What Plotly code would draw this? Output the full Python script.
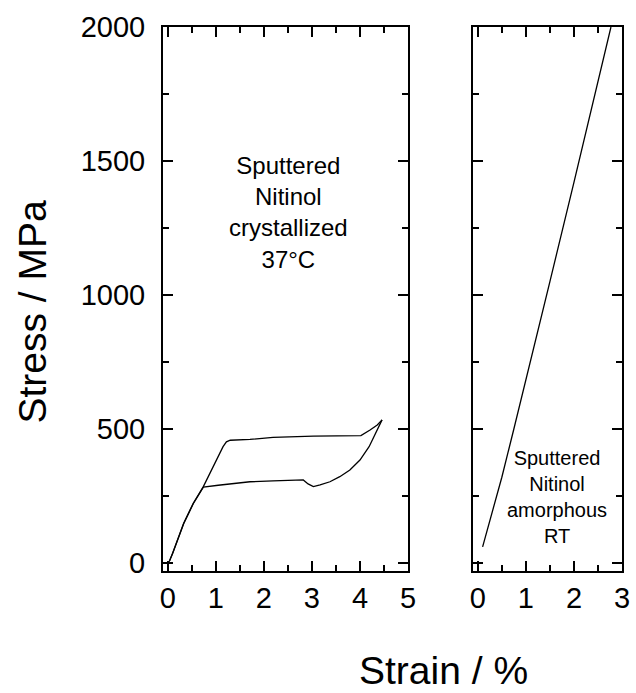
import plotly.graph_objects as go

# Crystallized Nitinol at 37 C: loading branch
cryst_load_strain = [0.03, 0.1, 0.33, 0.53, 0.74, 0.84, 0.94, 1.05, 1.15, 1.22, 1.3, 1.71, 2.19, 3.03, 4.02, 4.21, 4.36, 4.46]
cryst_load_stress = [5, 36, 148, 223, 285, 322, 359, 398, 434, 452, 458, 461, 469, 473, 475, 496, 515, 534]

# Crystallized Nitinol at 37 C: unloading branch
cryst_unload_strain = [4.46, 4.36, 4.19, 4.0, 3.79, 3.58, 3.375, 3.17, 3.03, 2.92, 2.82, 2.19, 1.71, 1.05, 0.8, 0.74, 0.53, 0.33, 0.1, 0.03]
cryst_unload_stress = [534, 496, 434, 384, 347, 322, 303, 291, 285, 295, 310, 306, 303, 290, 285, 283, 221, 146, 35, 5]

# Amorphous Nitinol at RT
amor_strain = [0.1, 0.25, 0.5, 0.75, 1.0, 1.5, 2.0, 2.5, 2.77]
amor_stress = [60, 160, 320, 500, 680, 1050, 1420, 1800, 2000]

W, H = 636, 693
FONT = "Liberation Sans, Arial, sans-serif"
line_style = dict(color="black", width=1.3)

fig = go.Figure()
fig.add_trace(go.Scatter(x=cryst_load_strain, y=cryst_load_stress, mode="lines",
                         line=line_style, xaxis="x", yaxis="y", showlegend=False))
fig.add_trace(go.Scatter(x=cryst_unload_strain, y=cryst_unload_stress, mode="lines",
                         line=line_style, xaxis="x", yaxis="y", showlegend=False))
fig.add_trace(go.Scatter(x=amor_strain, y=amor_stress, mode="lines",
                         line=line_style, xaxis="x2", yaxis="y2", showlegend=False))

ybot = 1 - 571 / H
ytop = 1 - 27 / H

common_x = dict(showline=True, linecolor="black", linewidth=2, mirror="allticks",
                ticks="inside", ticklen=10, tickwidth=2, tickcolor="black",
                dtick=1, tick0=0, showgrid=False, zeroline=False, automargin=False,
                tickfont=dict(family=FONT, size=29, color="black"),
                minor=dict(ticks="inside", ticklen=6, tickwidth=2, tickcolor="black", dtick=0.5, showgrid=False))
common_y = dict(showline=True, linecolor="black", linewidth=2, mirror="allticks",
                ticks="inside", ticklen=10, tickwidth=2, tickcolor="black",
                dtick=500, tick0=0, showgrid=False, zeroline=False, range=[-30, 2000],
                automargin=False,
                tickfont=dict(family=FONT, size=29, color="black"),
                minor=dict(ticks="inside", ticklen=6, tickwidth=2, tickcolor="black", dtick=250, showgrid=False))

fig.update_layout(
    width=W, height=H,
    margin=dict(l=0, r=0, t=0, b=0),
    paper_bgcolor="white", plot_bgcolor="white",
    xaxis=dict(domain=[163 / W, 408 / W], range=[-0.1, 5], anchor="y", **common_x),
    xaxis2=dict(domain=[473 / W, 622 / W], range=[-0.1, 3], anchor="y2", **common_x),
    yaxis=dict(domain=[ybot, ytop], anchor="x", ticklabelstandoff=10, **common_y),
    yaxis2=dict(domain=[ybot, ytop], anchor="x2", showticklabels=False, **common_y),
    annotations=[
        dict(text="Stress / MPa", x=32 / W, y=1 - 311.5 / H, xref="paper", yref="paper",
             textangle=-90, showarrow=False, font=dict(family=FONT, size=39, color="black"),
             xanchor="center", yanchor="middle"),
        dict(text="Strain / %", x=443 / W, y=1 - 670 / H, xref="paper", yref="paper",
             showarrow=False, font=dict(family=FONT, size=39, color="black"),
             xanchor="center", yanchor="middle"),
        dict(text="Sputtered<br>Nitinol<br>crystallized<br>37°C", x=288 / W, y=1 - 213 / H,
             xref="paper", yref="paper", showarrow=False, align="center",
             font=dict(family=FONT, size=24, color="black"), xanchor="center", yanchor="middle"),
        dict(text="Sputtered<br>Nitinol<br>amorphous<br>RT", x=557 / W, y=1 - 497 / H,
             xref="paper", yref="paper", showarrow=False, align="center",
             font=dict(family=FONT, size=20, color="black"), xanchor="center", yanchor="middle"),
    ],
)

fig.write_html("out.html")
